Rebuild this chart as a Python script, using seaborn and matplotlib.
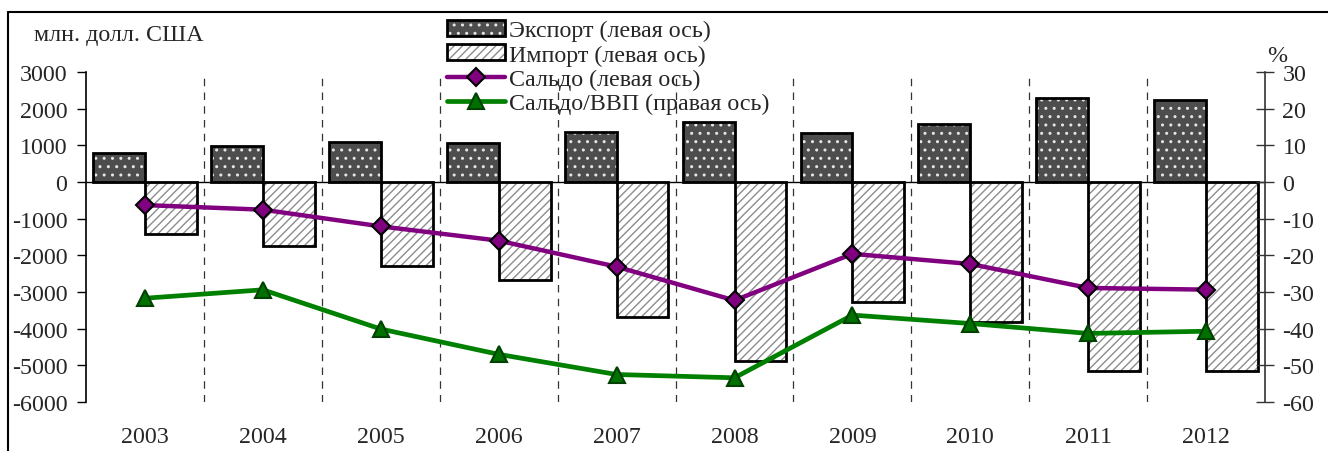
import numpy as np
import pandas as pd
import matplotlib
matplotlib.use("Agg")
import matplotlib.pyplot as plt
import seaborn as sns
from matplotlib.patches import Rectangle, Patch
from matplotlib.lines import Line2D
from matplotlib.legend_handler import HandlerTuple

# data
years = ["2003", "2004", "2005", "2006", "2007", "2008", "2009", "2010", "2011", "2012"]
export = [790, 990, 1080, 1055, 1370, 1630, 1330, 1575, 2280, 2230]
imports = [-1420, -1740, -2300, -2660, -3680, -4870, -3280, -3810, -5155, -5155]
saldo = [-630, -755, -1210, -1600, -2310, -3230, -1960, -2235, -2890, -2935]
saldo_gdp = [-31.7, -29.4, -40.1, -47.0, -52.5, -53.4, -36.3, -38.6, -41.3, -40.7]

labels = ["Экспорт (левая ось)", "Импорт (левая ось)",
          "Сальдо (левая ось)", "Сальдо/ВВП (правая ось)"]
left_ticks = [-6000, -5000, -4000, -3000, -2000, -1000, 0, 1000, 2000, 3000]
right_ticks = [-60, -50, -40, -30, -20, -10, 0, 10, 20, 30]

sns.set_style("white")
plt.rcParams["font.family"] = ["Liberation Serif", "DejaVu Serif"]
plt.rcParams["axes.unicode_minus"] = False
FS = 17.3

df = pd.DataFrame({
    "year": years * 2,
    "kind": [labels[0]] * len(years) + [labels[1]] * len(years),
    "value": export + imports,
})

fig = plt.figure(figsize=(13.28, 4.52), dpi=100)
ax = fig.add_axes([0.0648, 0.1084, 0.8878, 0.7301])

sns.barplot(data=df, x="year", y="value", hue="kind", hue_order=labels[:2],
            palette=["#4d4d4d", "white"], width=0.88, gap=0, saturation=1,
            errorbar=None, legend=False, ax=ax, zorder=2)

# hatch in its own colour, black outline drawn on top
styles = [("#4d4d4d", "#e6e6e6", ".."), ("white", "#8c8c8c", "////")]
for cont, (fc, hc, hatch) in zip(ax.containers, styles):
    for bar in cont:
        bar.set_facecolor(fc)
        bar.set_edgecolor(hc)
        bar.set_hatch(hatch)
        bar.set_linewidth(0)
        ax.add_patch(Rectangle(bar.get_xy(), bar.get_width(), bar.get_height(),
                               fill=False, ec="black", lw=2, zorder=3))

sns.lineplot(x=years, y=saldo, ax=ax, color="#800080", lw=3.2, marker="D",
             markersize=9, markerfacecolor="#800080", markeredgecolor="black",
             markeredgewidth=1.5, zorder=5)

ax.axhline(0, color="black", lw=1, zorder=4)
ax.set_xlim(-0.5, len(years) - 0.5)
ax.set_ylim(-6000, 3000)
ax.set_yticks(left_ticks)
ax.set_xticks(np.arange(0.5, len(years) - 1, 1), minor=True)
ax.grid(False)
ax.grid(axis="x", which="minor", color="#333333", lw=0.9, ls=(0, (6, 5)))
ax.tick_params(axis="x", which="both", length=0, pad=17, labelsize=FS)
ax.tick_params(axis="y", direction="out", length=6.5, width=1, pad=7,
               labelsize=FS, left=True, color="black")
ax.set_xlabel("")
ax.set_ylabel("")
for s in ["top", "bottom", "right"]:
    ax.spines[s].set_visible(False)
ax.spines["left"].set_color("black")
ax.spines["left"].set_linewidth(1.2)

ax2 = ax.twinx()
sns.lineplot(x=years, y=saldo_gdp, ax=ax2, color="#008000", lw=3.4, marker="^",
             markersize=12, markerfacecolor="#007000", markeredgecolor="#004000",
             markeredgewidth=1.5, zorder=5)
ax2.set_xlim(-0.5, len(years) - 0.5)
ax2.set_ylim(-60, 30)
ax2.set_yticks(right_ticks)
ax2.grid(False)
ax2.tick_params(axis="y", direction="inout", length=13, width=1, pad=6,
                labelsize=FS, right=True, color="#333333")
ax2.set_xlabel("")
ax2.set_ylabel("")
for s in ["top", "bottom", "left"]:
    ax2.spines[s].set_visible(False)
ax2.spines["right"].set_color("#333333")
ax2.spines["right"].set_linewidth(1.2)

# outer frame (top and left edges visible in the crop)
fig.add_artist(Line2D([8 / 1328, 1], [1 - 12.5 / 452] * 2, color="black", lw=1.5))
fig.add_artist(Line2D([8 / 1328] * 2, [0, 1 - 12.5 / 452], color="black", lw=1.5))

fig.text(34 / 1328, 1 - 35 / 452, "млн. долл. США", fontsize=FS, va="center", ha="left")
fig.text(1267 / 1328, 1 - 56 / 452, "%", fontsize=FS, va="center", ha="left")

h_exp = (Patch(facecolor="#4d4d4d", edgecolor="#e6e6e6", hatch="..", lw=0),
         Patch(fill=False, edgecolor="black", lw=2))
h_imp = (Patch(facecolor="white", edgecolor="#8c8c8c", hatch="////", lw=0),
         Patch(fill=False, edgecolor="black", lw=2))
h_sal = Line2D([], [], color="#800080", lw=3.2, marker="D", markersize=9,
               markerfacecolor="#800080", markeredgecolor="black", markeredgewidth=1.5)
h_gdp = Line2D([], [], color="#008000", lw=3.4, marker="^", markersize=12,
               markerfacecolor="#007000", markeredgecolor="#004000", markeredgewidth=1.5)
fig.legend([h_exp, h_imp, h_sal, h_gdp], labels, loc="upper left",
           bbox_to_anchor=(447 / 1328, 1 - 21 / 452), frameon=False, fontsize=FS,
           handler_map={tuple: HandlerTuple(ndivide=1)}, handlelength=2.4,
           handleheight=0.65, handletextpad=0.2, labelspacing=0.12, borderpad=0,
           borderaxespad=0)

fig.savefig("out.png", dpi=100)
